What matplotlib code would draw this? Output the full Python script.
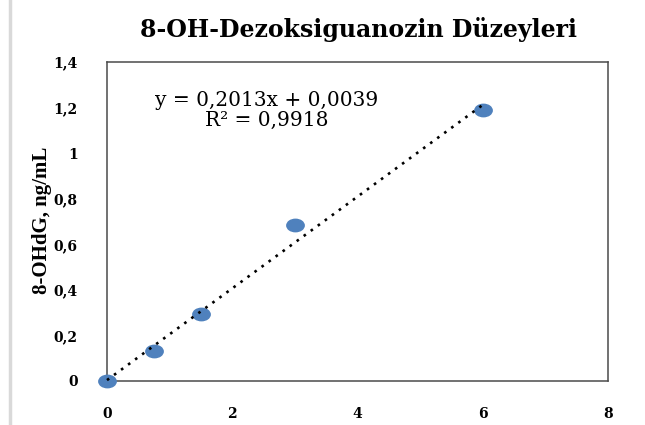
import matplotlib
matplotlib.use("Agg")
import matplotlib.pyplot as plt
from matplotlib.lines import Line2D
from matplotlib.path import Path
from matplotlib.transforms import Affine2D
import numpy as np

x_vals = [0, 0.75, 1.5, 3, 6]
y_vals = [0, 0.13, 0.294, 0.684, 1.19]
slope = 0.2013
intercept = 0.0039
r2 = 0.9918
x_ticks = [0, 2, 4, 6, 8]
y_ticks = [0, 0.2, 0.4, 0.6, 0.8, 1.0, 1.2, 1.4]
y_tick_labels = ["0", "0,2", "0,4", "0,6", "0,8", "1", "1,2", "1,4"]
title = "8-OH-Dezoksiguanozin Düzeyleri"
ylabel = "8-OHdG, ng/mL"

wide_serif = "DejaVu Serif"
serif = "Liberation Serif"
fig = plt.figure(figsize=(6.45, 4.25), dpi=100)
ax = fig.add_axes([107/645, 44/425, (608-107)/645, (381-62)/425])

ellipse = Path.unit_circle().transformed(Affine2D().scale(1.4, 1.0))
ax.plot(x_vals, y_vals, linestyle='none', marker=ellipse, color='#4f81bd',
        markersize=12.5, zorder=3, clip_on=False)
xl = np.array([min(x_vals), max(x_vals)])
ax.plot(xl, slope*xl + intercept, color='black', linestyle=(0, (1, 2.3)),
        linewidth=1.9, zorder=4, clip_on=False)

ax.set_xlim(0, 8)
ax.set_ylim(0, 1.4)
ax.set_xticks(x_ticks)
ax.set_xticklabels([str(t) for t in x_ticks])
ax.set_yticks(y_ticks)
ax.set_yticklabels(y_tick_labels)
ax.tick_params(axis='y', length=0, pad=21)
ax.tick_params(axis='x', length=0, pad=19)
for lab in ax.get_xticklabels() + ax.get_yticklabels():
    lab.set_fontfamily(wide_serif)
    lab.set_fontweight('bold')
    lab.set_fontsize(10)
for s in ax.spines.values():
    s.set_color('#4a4a4a')
    s.set_linewidth(1.1)

fig.text(358/645, 1 - 29/425, title, ha='center', va='center', fontfamily=wide_serif,
         fontweight='bold', fontsize=17)
fig.text(42/645, 1 - 220/425, ylabel, ha='center', va='center', rotation=90,
         fontfamily=serif, fontweight='bold', fontsize=15)
eq = "y = " + f"{slope:.4f}".replace('.', ',') + "x + " + f"{intercept:.4f}".replace('.', ',')
fig.text(267/645, 1 - 100/425, eq, ha='center', va='center',
         fontfamily=wide_serif, fontsize=14.5)
fig.text(267/645, 1 - 120/425, "R² = " + f"{r2:.4f}".replace('.', ','),
         ha='center', va='center', fontfamily=wide_serif, fontsize=14.5)

fig.add_artist(Line2D([10/645, 10/645], [0, 1], color='#d9d9d9', linewidth=2.5,
                      transform=fig.transFigure))

fig.savefig("out.png", dpi=100)
